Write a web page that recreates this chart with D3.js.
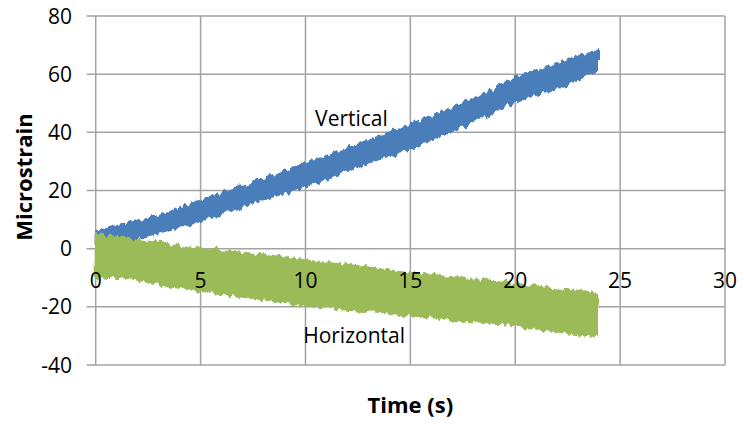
<!DOCTYPE html>
<html>
<head>
<meta charset="utf-8">
<script src="https://cdn.jsdelivr.net/npm/d3@7"></script>
<style>
  html, body { margin: 0; padding: 0; background: #fff; }
  svg { display: block; }
  text { font-family: "Open Sans", "DejaVu Sans", sans-serif; fill: #000; }
</style>
</head>
<body>
<svg id="chart" width="744" height="424"></svg>
<script>
// ---- data ----
const timeS = [0, 1, 2, 3, 4, 5, 6, 7, 8, 9, 10, 11, 12, 13, 14, 15, 16, 17, 18, 19, 20, 21, 22, 23, 23.9];
// Vertical strain: lower / upper envelope of the noisy trace (microstrain)
const verticalLow  = [1.0, 1.5, 3.5, 5.5, 7.5, 9.5, 12.0, 14.5, 17.0, 19.0, 21.5, 24.0, 27.0, 29.5, 32.0, 34.5, 37.5, 40.5, 43.5, 47.0, 50.5, 53.0, 55.5, 58.5, 61.0];
const verticalHigh = [5.5, 8.0, 9.5, 11.5, 14.0, 16.5, 19.0, 21.5, 24.0, 26.5, 29.5, 31.5, 34.5, 37.0, 40.0, 42.5, 45.5, 48.5, 51.5, 55.0, 58.5, 61.0, 63.5, 66.0, 68.0];
// Horizontal strain: lower / upper envelope
const horizontalLow  = [-9.5, -10.0, -11.0, -12.0, -13.5, -14.5, -15.5, -16.5, -17.5, -18.5, -19.5, -20.0, -21.0, -21.5, -22.0, -23.0, -23.5, -24.5, -25.0, -25.5, -26.5, -27.5, -28.5, -29.5, -30.0];
const horizontalHigh = [5.0, 4.0, 3.0, 2.0, 1.0, 0.0, -0.5, -1.5, -2.0, -3.0, -4.0, -5.0, -5.5, -6.5, -7.5, -8.5, -9.0, -10.0, -10.5, -11.5, -12.0, -13.0, -14.0, -14.5, -15.5];

const xTicks = [0, 5, 10, 15, 20, 25, 30];
const yTicks = [-40, -20, 0, 20, 40, 60, 80];
const xTitle = "Time (s)";
const yTitle = "Microstrain";
const seriesLabels = ["Vertical", "Horizontal"];
const seriesLabelPos = [[10.46, 42.3], [9.89, -32.4]];

// ---- drawing ----
const svg = d3.select("#chart");
const x = d3.scaleLinear().domain([0, 30]).range([95.7, 725]);
const y = d3.scaleLinear().domain([-40, 80]).range([365, 16]);

const gridColor = "#A3A3A3";

// roughening filter to mimic the sampling noise of the trace edges
const defs = svg.append("defs");
const f = defs.append("filter").attr("id", "rough").attr("x", "-5%").attr("y", "-20%").attr("width", "110%").attr("height", "140%");
f.append("feTurbulence").attr("type", "fractalNoise").attr("baseFrequency", "0.22 0.03").attr("numOctaves", 2).attr("seed", 5).attr("result", "n");
f.append("feDisplacementMap").attr("in", "SourceGraphic").attr("in2", "n").attr("scale", 9).attr("xChannelSelector", "R").attr("yChannelSelector", "G");

// horizontal gridlines (with outer tick extension)
svg.append("g").selectAll("line").data(yTicks).join("line")
  .attr("x1", x(0) - 9).attr("x2", x(30))
  .attr("y1", d => y(d)).attr("y2", d => y(d))
  .attr("stroke", gridColor).attr("stroke-width", 1.5);

// vertical gridlines
svg.append("g").selectAll("line").data(xTicks).join("line")
  .attr("x1", d => x(d)).attr("x2", d => x(d))
  .attr("y1", y(80)).attr("y2", y(-40))
  .attr("stroke", gridColor).attr("stroke-width", 1.5);

// series bands
const vData = timeS.map((t, i) => ({ t, lo: verticalLow[i], hi: verticalHigh[i] }));
const hData = timeS.map((t, i) => ({ t, lo: horizontalLow[i], hi: horizontalHigh[i] }));
const area = d3.area().x(d => x(d.t)).y0(d => y(d.lo)).y1(d => y(d.hi)).curve(d3.curveMonotoneX);

svg.append("path").datum(vData).attr("d", area)
  .attr("fill", "#4A7EBB").attr("stroke", "#4A7EBB").attr("stroke-width", 2)
  .attr("stroke-linejoin", "round").attr("filter", "url(#rough)");
svg.append("path").datum(hData).attr("d", area)
  .attr("fill", "#9BBB59").attr("stroke", "#9BBB59").attr("stroke-width", 2)
  .attr("stroke-linejoin", "round").attr("filter", "url(#rough)");

// y tick labels
svg.append("g").selectAll("text").data(yTicks).join("text")
  .attr("x", 72).attr("y", d => y(d)).attr("dy", "0.36em")
  .attr("text-anchor", "end").style("font-size", "21px")
  .text(d => d);

// x tick labels (axis crosses at y = 0)
svg.append("g").selectAll("text").data(xTicks).join("text")
  .attr("x", d => x(d)).attr("y", y(0) + 39)
  .attr("text-anchor", "middle").style("font-size", "21px")
  .text(d => d);

// series labels
svg.append("g").selectAll("text").data(seriesLabels).join("text")
  .attr("x", (d, i) => x(seriesLabelPos[i][0])).attr("y", (d, i) => y(seriesLabelPos[i][1]))
  .style("font-size", "21px").text(d => d);

// axis titles
svg.append("text").attr("x", (x(0) + x(30)) / 2).attr("y", 413)
  .attr("text-anchor", "middle").style("font-size", "22px").style("font-weight", "bold")
  .text(xTitle);
svg.append("text").attr("transform", "translate(32,177) rotate(-90)")
  .attr("text-anchor", "middle").style("font-size", "22px").style("font-weight", "bold")
  .text(yTitle);
</script>
</body>
</html>
